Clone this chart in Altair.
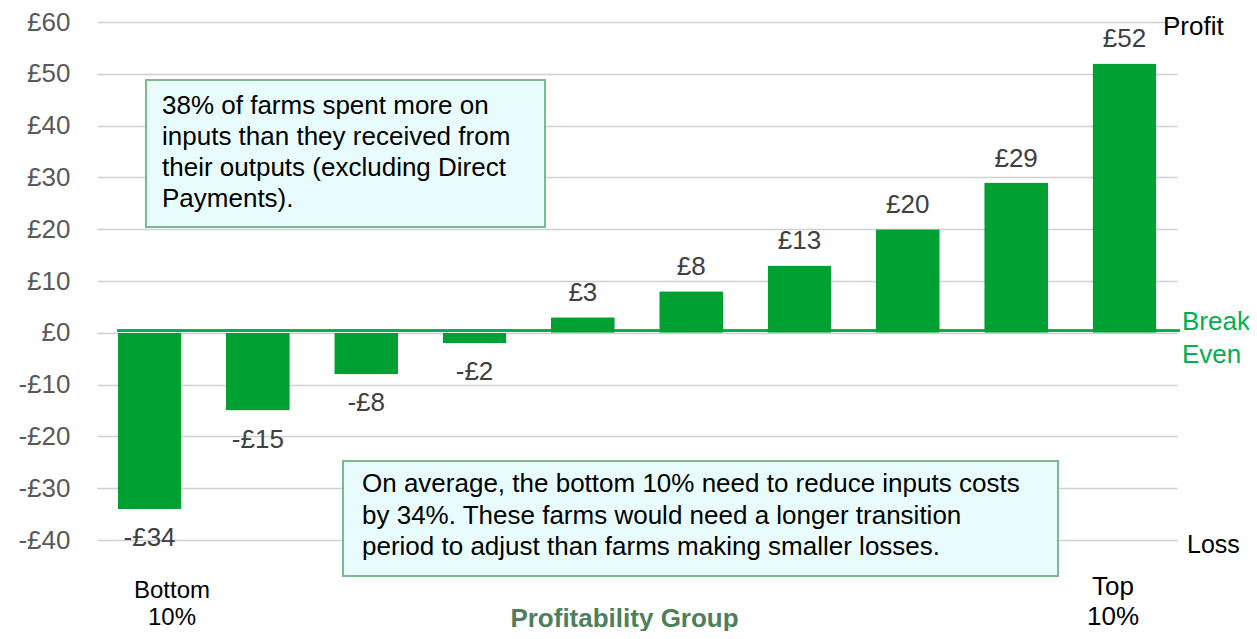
import altair as alt
import pandas as pd

groups = ["G1", "G2", "G3", "G4", "G5", "G6", "G7", "G8", "G9", "G10"]
values = [-34, -15, -8, -2, 3, 8, 13, 20, 29, 52]
y_ticks = [-40, -30, -20, -10, 0, 10, 20, 30, 40, 50, 60]

box1_text = "38% of farms spent more on\ninputs than they received from\ntheir outputs (excluding Direct\nPayments)."
box2_text = "On average, the bottom 10% need to reduce inputs costs\nby 34%. These farms would need a longer transition\nperiod to adjust than farms making smaller losses."

FONT = "Liberation Sans"
BAR = "#00A033"

df = pd.DataFrame({"group": groups, "value": values})
df["label"] = ["-£%d" % abs(v) if v < 0 else "£%d" % v for v in values]

xenc = alt.X("group:N", sort=groups,
             scale=alt.Scale(paddingInner=0.41, paddingOuter=0.19),
             axis=alt.Axis(labels=False, ticks=False, domain=False, grid=False,
                           title="Profitability Group", titleFont=FONT, titleFontSize=26,
                           titleFontWeight="bold", titleColor="#4E7F5C",
                           titleX=527, titleY=78, titleBaseline="middle", titleAlign="center"))
yenc = alt.Y("value:Q", scale=alt.Scale(domain=[-40, 60], nice=False, zero=False),
             axis=alt.Axis(values=y_ticks, title=None, ticks=False, domain=False,
                           grid=True, gridColor="#D0D0D0", gridWidth=1.6,
                           labelFont=FONT, labelFontSize=26, labelColor="#595959",
                           labelPadding=27,
                           labelExpr="datum.value < 0 ? '-£' + abs(datum.value) : '£' + datum.value"))

base = alt.Chart(df)

bars = base.mark_bar(color=BAR, cornerRadius=1).encode(x=xenc, y=yenc)

be_line = base.mark_rule(color="#00B050", strokeWidth=2.2, yOffset=-2).encode(
    x=alt.value(20), x2=alt.value(1083), y=alt.datum(0))

pos_lab = base.transform_filter("datum.value >= 0").mark_text(
    font=FONT, fontSize=26, color="#404040", baseline="alphabetic", dy=-16
).encode(x=alt.X("group:N", sort=groups), y="value:Q", text="label:N")

neg_lab = base.transform_filter("datum.value < 0").mark_text(
    font=FONT, fontSize=26, color="#404040", baseline="alphabetic", dy=37
).encode(x=alt.X("group:N", sort=groups), y="value:Q", text="label:N")

ann = pd.DataFrame({"k": [0]})
a = alt.Chart(ann)

box1 = a.mark_rect(fill="#E9FCFD", stroke="#7DB88E", strokeWidth=2).encode(
    x=alt.value(49), x2=alt.value(448), y=alt.value(58), y2=alt.value(205))
box1_t = a.mark_text(font=FONT, fontSize=26, color="#000000", align="left",
                     baseline="middle", lineBreak="\n", lineHeight=31, text=box1_text).encode(
    x=alt.value(65), y=alt.value(84))

box2 = a.mark_rect(fill="#E9FCFD", stroke="#7DB88E", strokeWidth=2).encode(
    x=alt.value(246), x2=alt.value(961), y=alt.value(439), y2=alt.value(554))
box2_t = a.mark_text(font=FONT, fontSize=26, color="#000000", align="left",
                     baseline="middle", lineBreak="\n", lineHeight=31.5, text=box2_text).encode(
    x=alt.value(265), y=alt.value(462))

profit_t = a.mark_text(font=FONT, fontSize=26, color="#000000", align="left",
                       baseline="middle", text="Profit").encode(x=alt.value(1066), y=alt.value(5))
loss_t = a.mark_text(font=FONT, fontSize=25, color="#000000", align="left",
                     baseline="middle", text="Loss").encode(x=alt.value(1090), y=alt.value(523))
be_t = a.mark_text(font=FONT, fontSize=26, color="#00B050", align="left",
                   baseline="middle", lineBreak="\n", lineHeight=33, text="Break\nEven").encode(
    x=alt.value(1085), y=alt.value(300))
bottom_t = a.mark_text(font=FONT, fontSize=24, color="#000000", align="center",
                       baseline="middle", lineBreak="\n", lineHeight=27, text="Bottom\n10%").encode(
    x=alt.value(75), y=alt.value(569))
top_t = a.mark_text(font=FONT, fontSize=26, color="#000000", align="center",
                    baseline="middle", lineBreak="\n", lineHeight=30, text="Top\n10%").encode(
    x=alt.value(1016), y=alt.value(565))

chart = alt.layer(
    be_line, bars, pos_lab, neg_lab, box1, box1_t, box2, box2_t,
    profit_t, loss_t, be_t, bottom_t, top_t
).properties(
    width=1080, height=518,
    autosize=alt.AutoSizeParams(type="none"),
    padding={"left": 89, "top": 14, "right": 72, "bottom": 91}
).configure_view(strokeWidth=0)

chart.save("out.html", embed_options={"renderer": "svg", "actions": False})
